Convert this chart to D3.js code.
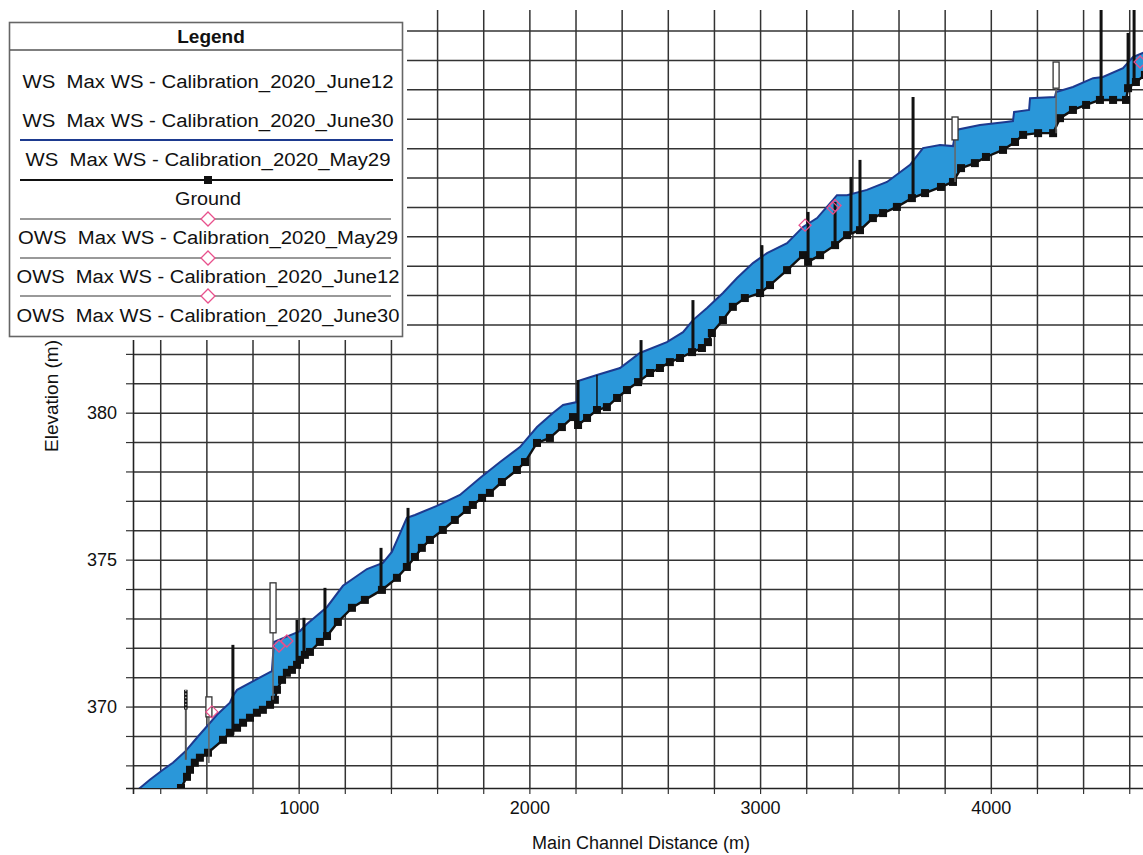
<!DOCTYPE html>
<html><head><meta charset="utf-8">
<script src="https://cdn.jsdelivr.net/npm/d3@7"></script>
<style>
html,body{margin:0;padding:0;background:#fff;}
svg{display:block;font-family:"Liberation Sans",Arial,sans-serif;}
</style></head>
<body>
<svg id="chart" width="1143" height="855"></svg>
<script>
// ---------- data (main channel distance in m, elevation in m) ----------
const groundStation = [355,490,516,529,550,572,607,672,702,733,759,789,819,845,876,897,906,928,949,971,993,1006,1027,1049,1092,1123,1170,1231,1287,1361,1426,1469,1504,1534,1569,1625,1677,1729,1755,1795,1829,1881,1946,1981,2033,2089,2141,2189,2211,2250,2293,2336,2380,2423,2471,2523,2566,2609,2653,2705,2748,2774,2791,2839,2882,2934,3000,3043,3117,3186,3208,3260,3325,3377,3433,3489,3533,3593,3658,3715,3784,3836,3871,3931,3979,4053,4105,4140,4205,4270,4300,4356,4413,4473,4530,4586,4595,4629,4668];
const groundElev = [366.66,367.23,367.61,367.85,368.09,368.26,368.43,368.87,369.11,369.28,369.45,369.62,369.79,369.89,370.06,370.23,370.57,370.91,371.15,371.25,371.42,371.59,371.76,371.86,372.20,372.40,372.88,373.36,373.63,373.97,374.38,374.75,375.09,375.40,375.67,376.01,376.35,376.69,376.86,377.10,377.27,377.64,378.05,378.32,378.97,379.14,379.51,379.85,379.58,379.82,380.09,380.19,380.50,380.77,381.04,381.35,381.52,381.72,381.86,382.06,382.20,382.40,382.71,383.15,383.60,383.90,384.07,384.34,384.85,385.36,385.13,385.36,385.70,386.04,386.21,386.62,386.79,387.00,387.30,387.47,387.68,387.85,388.32,388.49,388.70,388.94,389.21,389.45,389.51,389.51,390.02,390.30,390.47,390.64,390.64,390.64,391.04,391.25,391.49];

const wsStation = [303,355,412,455,507,559,616,646,702,715,733,884,893,1006,1036,1123,1192,1296,1365,1404,1469,1504,1599,1699,1786,1873,1959,2033,2102,2146,2206,2211,2293,2393,2479,2596,2666,2709,2770,2839,2900,2969,3030,3117,3186,3247,3316,3333,3377,3463,3550,3650,3706,3780,3836,3849,3953,4066,4096,4101,4166,4170,4278,4283,4356,4443,4486,4573,4616,4668];
const wsElev = [367.17,367.51,367.85,368.09,368.46,368.94,369.45,369.72,370.13,370.36,370.57,371.21,372.20,372.57,372.81,373.39,374.11,374.68,374.89,375.26,376.42,376.52,376.83,377.20,377.78,378.32,378.83,379.51,379.99,380.26,380.36,381.08,381.28,381.52,382.03,382.40,382.74,383.15,383.56,384.07,384.58,385.09,385.43,385.77,386.32,386.62,387.24,387.40,387.40,387.58,387.85,388.43,389.00,389.11,389.07,389.62,389.79,389.89,389.92,390.23,390.30,390.70,390.74,390.91,391.08,391.38,391.42,391.72,392.10,392.27];

// structures (bridges / culverts / weirs) drawn as vertical marks
const structStation = [511,611,715,889,993,1023,1114,1357,1474,2211,2293,2484,2709,3008,3208,3325,3394,3433,3663,3845,4283,4478,4595,4621];
const structTop     = [370.57,370.33,372.10,374.21,372.95,373.02,374.04,375.40,376.76,381.11,381.28,382.47,383.83,385.70,386.83,387.17,388.02,388.60,390.74,390.06,391.93,393.77,392.92,393.77];
const structBottom  = [368.19,368.08,369.04,370.23,371.42,371.76,372.37,373.97,374.75,379.58,380.09,381.01,382.03,384.07,385.13,385.70,386.11,386.21,387.30,387.85,389.51,390.64,391.04,391.25];
const structBoxBottom = [369.90,369.65,0,372.51,0,0,0,0,0,0,0,0,0,0,0,0,0,0,0,389.28,391.04,0,0,0];
const structType    = ["dotted","box","line","box","line","line","line","line","line","line","thin","line","line","line","line","line","line","line","line","box","box","line","line","line"];

// observed water surfaces
const owsMay29Station = [624,915,3195];
const owsMay29Elev = [369.82,372.06,386.38];
const owsJune12Station = [949,3316];
const owsJune12Elev = [372.23,386.96];
const owsJune30Station = [3325,4647];
const owsJune30Elev = [387.05,391.93];

const xGridTicks = d3.range(400, 4700, 200);
const xLabelTicks = [1000, 2000, 3000, 4000];
const yGridTicks = d3.range(368, 394, 1);
const yLabelTicks = [370, 375, 380];

const legendItems = [
  "WS  Max WS - Calibration_2020_June12",
  "WS  Max WS - Calibration_2020_June30",
  "WS  Max WS - Calibration_2020_May29",
  "Ground",
  "OWS  Max WS - Calibration_2020_May29",
  "OWS  Max WS - Calibration_2020_June12",
  "OWS  Max WS - Calibration_2020_June30"
];

// ---------- drawing ----------
const svg = d3.select("#chart");
const L = 133, R = 1150, T = 10, B = 788;
const x = d3.scaleLinear().domain([282, 4690]).range([L, R]);
const y = d3.scaleLinear().domain([367.23, 393.70]).range([B, T]);

const gridColor = "#333";

// gridlines
const gx = svg.append("g").attr("transform", `translate(0,${B})`)
  .call(d3.axisBottom(x).tickValues(xGridTicks).tickSize(-(B - T)).tickFormat(""));
gx.select(".domain").remove();
gx.selectAll("line").attr("stroke", gridColor).attr("stroke-width", 1.5);

const gy = svg.append("g").attr("transform", `translate(${L},0)`)
  .call(d3.axisLeft(y).tickValues(yGridTicks).tickSize(-(R - L)).tickFormat(""));
gy.select(".domain").remove();
gy.selectAll("line").attr("stroke", gridColor).attr("stroke-width", 1.5);

// axes with small tick marks and labels
const ax = svg.append("g").attr("transform", `translate(0,${B})`)
  .call(d3.axisBottom(x).tickValues(xGridTicks).tickSize(6).tickPadding(7)
    .tickFormat(d => xLabelTicks.includes(d) ? d : ""));
ax.select(".domain").attr("stroke", "#222").attr("stroke-width", 1.6);
ax.selectAll("line").attr("stroke", "#333").attr("stroke-width", 1.2);
ax.selectAll("text").attr("font-family", "Liberation Sans, Arial, sans-serif").attr("font-size", 18).attr("fill", "#111");

const ay = svg.append("g").attr("transform", `translate(${L},0)`)
  .call(d3.axisLeft(y).tickValues(yGridTicks).tickSize(7).tickPadding(9)
    .tickFormat(d => yLabelTicks.includes(d) ? d : ""));
ay.select(".domain").attr("stroke", "#222").attr("stroke-width", 1.6);
ay.selectAll("line").attr("stroke", "#333").attr("stroke-width", 1.2);
ay.selectAll("text").attr("font-family", "Liberation Sans, Arial, sans-serif").attr("font-size", 18).attr("fill", "#111");

// clip
svg.append("clipPath").attr("id", "clip").append("rect")
  .attr("x", L).attr("y", T).attr("width", R - L).attr("height", B - T);
const plot = svg.append("g").attr("clip-path", "url(#clip)");

const ground = groundStation.map((s, i) => [s, groundElev[i]]);
const ws = wsStation.map((s, i) => [s, wsElev[i]]);

// water fill between WS and ground
const poly = ws.concat(ground.slice().reverse());
plot.append("path")
  .attr("d", d3.line().x(d => x(d[0])).y(d => y(d[1]))(poly) + "Z")
  .attr("fill", "#2a97d9").attr("stroke", "none");

// WS line
plot.append("path")
  .attr("d", d3.line().x(d => x(d[0])).y(d => y(d[1]))(ws))
  .attr("fill", "none").attr("stroke", "#1d3a8f").attr("stroke-width", 2);

// ground line
plot.append("path")
  .attr("d", d3.line().x(d => x(d[0])).y(d => y(d[1]))(ground))
  .attr("fill", "none").attr("stroke", "#111").attr("stroke-width", 2.4);
plot.selectAll("rect.gpt").data(ground).enter().append("rect")
  .attr("class", "gpt")
  .attr("x", d => x(d[0]) - 4).attr("y", d => y(d[1]) - 4)
  .attr("width", 8).attr("height", 8).attr("fill", "#111");

// structures
structStation.forEach((s, i) => {
  const t = structType[i];
  const xs = x(s);
  if (t === "line" || t === "thin") {
    plot.append("line").attr("x1", xs).attr("x2", xs)
      .attr("y1", y(structTop[i])).attr("y2", y(structBottom[i]))
      .attr("stroke", "#111").attr("stroke-width", t === "thin" ? 1.5 : 3);
  } else if (t === "dotted") {
    plot.append("line").attr("x1", xs).attr("x2", xs)
      .attr("y1", y(structTop[i])).attr("y2", y(structBottom[i]))
      .attr("stroke", "#555").attr("stroke-width", 2);
    plot.append("line").attr("x1", xs).attr("x2", xs)
      .attr("y1", y(structTop[i])).attr("y2", y(structBoxBottom[i]))
      .attr("stroke", "#111").attr("stroke-width", 3.5);
    plot.append("line").attr("x1", xs).attr("x2", xs)
      .attr("y1", y(structTop[i])).attr("y2", y(structBoxBottom[i]))
      .attr("stroke", "#fff").attr("stroke-width", 1).attr("stroke-dasharray", "1.5,2");
  } else if (t === "box") {
    plot.append("line").attr("x1", xs).attr("x2", xs)
      .attr("y1", y(structBoxBottom[i])).attr("y2", y(structBottom[i]))
      .attr("stroke", "#666").attr("stroke-width", 1.5);
    plot.append("rect").attr("x", xs - 3).attr("y", y(structTop[i]))
      .attr("width", 6).attr("height", y(structBoxBottom[i]) - y(structTop[i]))
      .attr("fill", "#fff").attr("stroke", "#333").attr("stroke-width", 1.3);
  }
});

// observed WS diamonds
const diamond = (cx, cy, r) => `M${cx},${cy - r}L${cx + r},${cy}L${cx},${cy + r}L${cx - r},${cy}Z`;
[[owsMay29Station, owsMay29Elev], [owsJune12Station, owsJune12Elev], [owsJune30Station, owsJune30Elev]].forEach(([st, el]) => {
  st.forEach((s, i) => {
    plot.append("path").attr("d", diamond(x(s), y(el[i]), 6))
      .attr("fill", "none").attr("stroke", "#e8508c").attr("stroke-width", 1.3);
  });
});

// axis titles
svg.append("text").attr("x", 641).attr("y", 849).attr("text-anchor", "middle")
  .attr("font-size", 18).attr("fill", "#111").text("Main Channel Distance (m)");
svg.append("text").attr("transform", `translate(58,396) rotate(-90)`).attr("text-anchor", "middle")
  .attr("font-size", 19).attr("fill", "#111").text("Elevation (m)");

// legend
const lg = svg.append("g");
lg.append("rect").attr("x", 0).attr("y", 0).attr("width", 407).attr("height", 340).attr("fill", "#fff");
lg.append("rect").attr("x", 9.5).attr("y", 22.5).attr("width", 393).attr("height", 314)
  .attr("fill", "#fff").attr("stroke", "#666").attr("stroke-width", 1.6);
lg.append("line").attr("x1", 10).attr("x2", 402).attr("y1", 50).attr("y2", 50)
  .attr("stroke", "#555").attr("stroke-width", 1.4);
lg.append("text").attr("x", 211).attr("y", 43).attr("text-anchor", "middle")
  .attr("font-size", 19).attr("font-weight", "bold").attr("fill", "#111").text("Legend");
const rowY = [88, 127, 166, 205, 244, 283, 322];
const rowW = [371, 371, 365, 66, 380, 383, 383];
legendItems.forEach((txt, i) => {
  lg.append("text").attr("x", 208).attr("y", rowY[i]).attr("text-anchor", "middle")
    .attr("font-size", 18).attr("fill", "#111").style("white-space", "pre")
    .attr("textLength", rowW[i]).attr("lengthAdjust", "spacingAndGlyphs").text(txt);
});
// legend symbols
lg.append("line").attr("x1", 20).attr("x2", 393).attr("y1", 140).attr("y2", 140)
  .attr("stroke", "#1d3a8f").attr("stroke-width", 2);
lg.append("line").attr("x1", 20).attr("x2", 393).attr("y1", 180).attr("y2", 180)
  .attr("stroke", "#111").attr("stroke-width", 2);
lg.append("rect").attr("x", 204).attr("y", 176).attr("width", 8).attr("height", 8).attr("fill", "#111");
[219, 258, 296].forEach(yy => {
  lg.append("line").attr("x1", 20).attr("x2", 391).attr("y1", yy).attr("y2", yy)
    .attr("stroke", "#777").attr("stroke-width", 1.3);
  lg.append("path").attr("d", diamond(208, yy, 7))
    .attr("fill", "#fff").attr("stroke", "#e8508c").attr("stroke-width", 1.3);
});
</script>
</body></html>
